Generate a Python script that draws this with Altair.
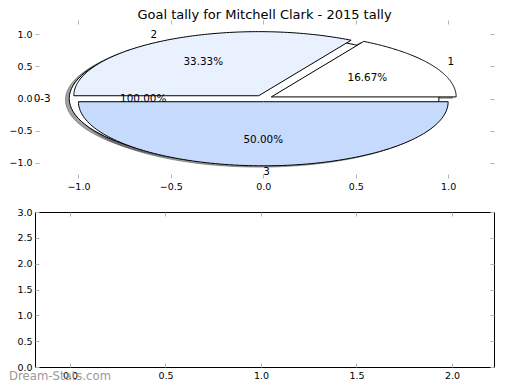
import altair as alt
import pandas as pd

TITLE = "Goal tally for Mitchell Clark - 2015 tally"
WATERMARK = "Dream-Stats.com"

# Pie data: the overall "0-3" pie (100%) and the per-goal pie drawn over it
pie_names = ["all", "goals", "goals", "goals"]
slice_labels = ["0-3", "1", "2", "3"]
slice_values = [6, 1, 2, 3]
slice_order = [0, 1, 2, 3]

top_x_ticks = [-1.0, -0.5, 0.0, 0.5, 1.0]
top_y_ticks = [-1.0, -0.5, 0.0, 0.5, 1.0]
bottom_x_ticks = [0.0, 0.5, 1.0, 1.5, 2.0]
bottom_y_ticks = [0.0, 0.5, 1.0, 1.5, 2.0, 2.5, 3.0]

slice_colors = ["#FFFFFF", "#FFFFFF", "#EAF1FE", "#C6DAFE"]
SHADOW_COLOR = "#46484c"

EXPLODE = 0.05
SHADOW = 0.02
N = 120

W = 459
H_TOP = 158
H_BOT = 155
FONT = "DejaVu Sans"
TICK_GREY = "#b4b4b4"

top_x_scale = alt.Scale(domain=[-1.235, 1.248], nice=False, zero=False)
top_y_scale = alt.Scale(domain=[-1.24, 1.225], nice=False, zero=False)
bot_x_scale = alt.Scale(domain=[-0.183, 2.22], nice=False, zero=False)
bot_y_scale = alt.Scale(domain=[0, 3], nice=False, zero=False)

color_scale = alt.Scale(domain=slice_labels, range=slice_colors)

slices = pd.DataFrame({"pie": pie_names, "label": slice_labels,
                       "value": slice_values, "idx": slice_order})


def label_axis(orient, vals):
    return alt.Axis(orient=orient, values=vals, format=".1f", ticks=False, domain=False,
                    grid=False, labelPadding=3, labelFontSize=9.5, labelFont=FONT,
                    labelColor="black", labelFlush=False, title=None)


def tick_axis(orient, vals):
    return alt.Axis(orient=orient, values=vals, offset=-4, tickSize=4, ticks=True,
                    labels=False, domain=False, grid=False, tickColor=TICK_GREY,
                    tickWidth=1, title=None)


def axis_layers(xvals, yvals, xs, ys):
    df = pd.DataFrame({"x": [xvals[0]], "y": [yvals[0]]})
    out = []
    for xa, ya in [(label_axis("bottom", xvals), label_axis("left", yvals)),
                   (tick_axis("bottom", xvals), tick_axis("left", yvals)),
                   (tick_axis("top", xvals), tick_axis("right", yvals))]:
        out.append(alt.Chart(df).mark_point(opacity=0).encode(
            x=alt.X("x:Q", scale=xs, axis=xa),
            y=alt.Y("y:Q", scale=ys, axis=ya)))
    return out


base = (alt.Chart(slices)
        .transform_joinaggregate(total="sum(value)", groupby=["pie"])
        .transform_window(cum="sum(value)", groupby=["pie"],
                          sort=[alt.SortField("idx", order="ascending")], frame=[None, 0])
        .transform_calculate(t1="2*PI*(datum.cum-datum.value)/datum.total",
                             t2="2*PI*datum.cum/datum.total")
        .transform_calculate(tm="(datum.t1+datum.t2)/2",
                             full="(datum.t2-datum.t1) > 2*PI-1e-9")
        .transform_calculate(cx=f"{EXPLODE}*cos(datum.tm)", cy=f"{EXPLODE}*sin(datum.tm)"))

poly = (base
        .transform_calculate(k=f"sequence(0, {N + 3})")
        .transform_flatten(["k"])
        .transform_calculate(ang=f"datum.t1+(datum.t2-datum.t1)*clamp(datum.k-1,0,{N})/{N}",
                             hub=f"!datum.full && (datum.k==0 || datum.k=={N + 2})")
        .transform_calculate(px="datum.hub ? datum.cx : datum.cx+cos(datum.ang)",
                             py="datum.hub ? datum.cy : datum.cy+sin(datum.ang)"))

shadows = (poly
           .transform_calculate(sx=f"datum.px-{SHADOW}", sy=f"datum.py-{SHADOW}")
           .mark_line(strokeWidth=1, fill=SHADOW_COLOR, stroke=SHADOW_COLOR,
                      fillOpacity=0.5, strokeOpacity=0.5)
           .encode(x=alt.X("sx:Q", scale=top_x_scale, axis=None),
                   y=alt.Y("sy:Q", scale=top_y_scale, axis=None),
                   detail="label:N", order="k:Q"))


def wedges(which):
    return (poly.transform_filter(f"datum.pie == '{which}'")
            .mark_line(stroke="black", strokeWidth=1, strokeJoin="miter")
            .encode(x=alt.X("px:Q", scale=top_x_scale, axis=None),
                    y=alt.Y("py:Q", scale=top_y_scale, axis=None),
                    detail="label:N", order="k:Q",
                    fill=alt.Fill("label:N", scale=color_scale, legend=None)))


labels = base.transform_calculate(
    lx="datum.cx+1.1*cos(datum.tm)", ly="datum.cy+1.1*sin(datum.tm)",
    ax="cos(datum.tm) > -1e-6 ? 'left' : 'right'",
    qx="datum.cx+0.6*cos(datum.tm)", qy="datum.cy+0.6*sin(datum.tm)",
    pct="format(100*datum.value/datum.total, '.2f') + '%'")


def name_labels(side):
    return (labels.transform_filter(f"datum.ax == '{side}'")
            .mark_text(align=side, baseline="middle", fontSize=10.4, font=FONT, color="black")
            .encode(x=alt.X("lx:Q", scale=top_x_scale, axis=None),
                    y=alt.Y("ly:Q", scale=top_y_scale, axis=None),
                    text="label:N"))


pct_labels = (labels.mark_text(align="center", baseline="middle", fontSize=10.4,
                               font=FONT, color="black")
              .encode(x=alt.X("qx:Q", scale=top_x_scale, axis=None),
                      y=alt.Y("qy:Q", scale=top_y_scale, axis=None),
                      text="pct:N"))

top = (alt.layer(*axis_layers(top_x_ticks, top_y_ticks, top_x_scale, top_y_scale),
                 shadows, wedges("all"), wedges("goals"),
                 name_labels("left"), name_labels("right"), pct_labels)
       .resolve_axis(x="independent", y="independent")
       .properties(width=W, height=H_TOP,
                   view=alt.ViewBackground(stroke="transparent", strokeWidth=0),
                   title=alt.TitleParams(TITLE, fontSize=13, font=FONT, fontWeight="normal",
                                         offset=-2, anchor="middle", color="black")))

mark_df = pd.DataFrame({"t": [WATERMARK]})
watermark = alt.Chart(mark_df).mark_text(
    align="left", baseline="middle", fontSize=11.7, font=FONT, color="#9a9a9a"
).encode(text="t:N", x=alt.value(-26), y=alt.value(H_BOT + 9))

bottom = (alt.layer(*axis_layers(bottom_x_ticks, bottom_y_ticks, bot_x_scale, bot_y_scale),
                    watermark)
          .resolve_axis(x="independent", y="independent")
          .properties(width=W, height=H_BOT,
                      view=alt.ViewBackground(stroke="black", strokeWidth=1)))

chart = (alt.vconcat(top, bottom, spacing=15)
         .properties(padding=0)
         .configure(font=FONT))

chart.save("out.html", embed_options={"renderer": "svg", "actions": False})
